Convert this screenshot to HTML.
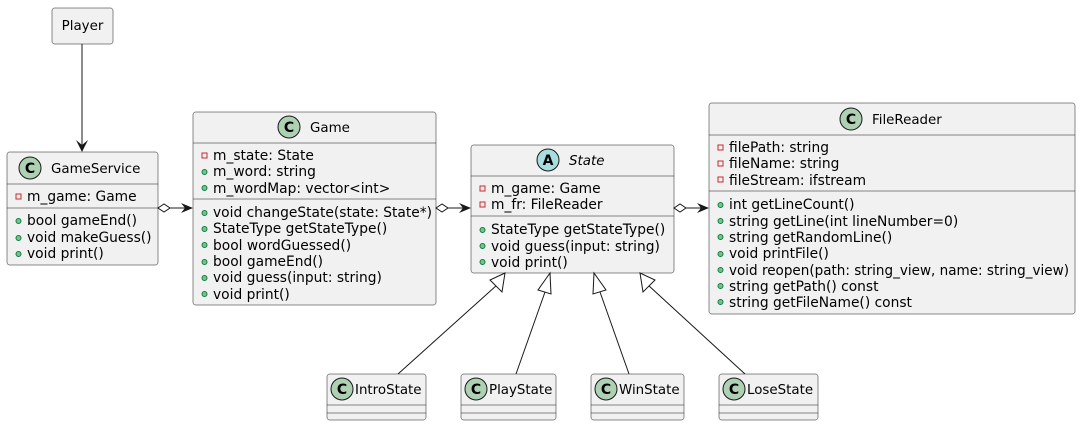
<!DOCTYPE html>
<html><head><meta charset="utf-8"><style>
html,body{margin:0;padding:0;background:#fff;}
svg{display:block;font-family:"DejaVu Sans","Liberation Sans",sans-serif;}
text{font-size:13.8px;fill:#000;}
.t{font-size:13.4px;}
.b{fill:#F1F1F1;stroke:#181818;stroke-width:0.5;}
.l{stroke:#181818;stroke-width:0.5;}
.pr{fill:none;stroke:#C82930;stroke-width:1;}
.pu{fill:#84BE84;stroke:#038048;stroke-width:1;}
.e{stroke:#181818;stroke-width:1;fill:none;}
</style></head><body>
<svg width="1081" height="428" viewBox="0 0 1081 428">
<rect class="b" x="52" y="8" width="61" height="36" rx="2.5"/>
<text class="t" x="82.5" y="30" text-anchor="middle">Player</text>
<line class="e" x1="82" y1="44" x2="82" y2="150"/>
<polygon points="76,140 82,152 88,140 82,145" fill="#181818"/>

<rect class="b" x="7" y="152" width="151" height="113" rx="2.5"/>
<circle cx="30" cy="168" r="11" fill="#ADD1B2" stroke="#181818" stroke-width="1"/>
<text x="30" y="173" text-anchor="middle" style="font-weight:bold;font-size:14px">C</text>
<text class="t" x="51" y="173">GameService</text>
<line class="l" x1="7" y1="184" x2="158" y2="184"/>
<rect class="pr" x="16" y="194" width="5" height="5"/><text x="27" y="201">m_game: Game</text>
<line class="l" x1="7" y1="208" x2="158" y2="208"/>
<circle class="pu" cx="18.5" cy="221" r="2.5"/><text x="27" y="225">bool gameEnd()</text>
<circle class="pu" cx="18.5" cy="238" r="2.5"/><text x="27" y="242">void makeGuess()</text>
<circle class="pu" cx="18.5" cy="254" r="2.5"/><text x="27" y="258">void print()</text>

<rect class="b" x="193" y="112" width="243" height="193" rx="2.5"/>
<circle cx="289" cy="127" r="11" fill="#ADD1B2" stroke="#181818" stroke-width="1"/>
<text x="289" y="132" text-anchor="middle" style="font-weight:bold;font-size:14px">C</text>
<text class="t" x="310" y="132">Game</text>
<line class="l" x1="193" y1="143" x2="436" y2="143"/>
<rect class="pr" x="202" y="153" width="5" height="5"/><text x="213" y="160">m_state: State</text>
<circle class="pu" cx="204.5" cy="172" r="2.5"/><text x="213" y="176">m_word: string</text>
<circle class="pu" cx="204.5" cy="188" r="2.5"/><text x="213" y="193">m_wordMap: vector&lt;int&gt;</text>
<line class="l" x1="193" y1="199" x2="436" y2="199"/>
<circle class="pu" cx="204.5" cy="213" r="2.5"/><text x="213" y="217">void changeState(state: State*)</text>
<circle class="pu" cx="204.5" cy="229" r="2.5"/><text x="213" y="233">StateType getStateType()</text>
<circle class="pu" cx="204.5" cy="245" r="2.5"/><text x="213" y="250">bool wordGuessed()</text>
<circle class="pu" cx="204.5" cy="262" r="2.5"/><text x="213" y="266">bool gameEnd()</text>
<circle class="pu" cx="204.5" cy="278" r="2.5"/><text x="213" y="282">void guess(input: string)</text>
<circle class="pu" cx="204.5" cy="294" r="2.5"/><text x="213" y="299">void print()</text>

<rect class="b" x="471" y="145" width="203" height="128" rx="2.5"/>
<circle cx="548" cy="160" r="11" fill="#A9DCDF" stroke="#181818" stroke-width="1"/>
<text x="548" y="165" text-anchor="middle" style="font-weight:bold;font-size:14px">A</text>
<text class="t" x="569" y="165" style="font-style:italic">State</text>
<line class="l" x1="471" y1="176" x2="674" y2="176"/>
<rect class="pr" x="480" y="186" width="5" height="5"/><text x="491" y="193">m_game: Game</text>
<rect class="pr" x="480" y="202" width="5" height="5"/><text x="491" y="209">m_fr: FileReader</text>
<line class="l" x1="471" y1="216" x2="674" y2="216"/>
<circle class="pu" cx="482.5" cy="230" r="2.5"/><text x="491" y="234">StateType getStateType()</text>
<circle class="pu" cx="482.5" cy="246" r="2.5"/><text x="491" y="251">void guess(input: string)</text>
<circle class="pu" cx="482.5" cy="262" r="2.5"/><text x="491" y="267">void print()</text>

<rect class="b" x="709" y="103" width="366" height="211" rx="2.5"/>
<circle cx="851" cy="119" r="11" fill="#ADD1B2" stroke="#181818" stroke-width="1"/>
<text x="851" y="124" text-anchor="middle" style="font-weight:bold;font-size:14px">C</text>
<text class="t" x="872" y="124">FileReader</text>
<line class="l" x1="709" y1="135" x2="1075" y2="135"/>
<rect class="pr" x="718" y="145" width="5" height="5"/><text x="729" y="152">filePath: string</text>
<rect class="pr" x="718" y="161" width="5" height="5"/><text x="729" y="168">fileName: string</text>
<rect class="pr" x="718" y="177" width="5" height="5"/><text x="729" y="185">fileStream: ifstream</text>
<line class="l" x1="709" y1="191" x2="1075" y2="191"/>
<circle class="pu" cx="720.5" cy="205" r="2.5"/><text x="729" y="209">int getLineCount()</text>
<circle class="pu" cx="720.5" cy="221" r="2.5"/><text x="729" y="226">string getLine(int lineNumber=0)</text>
<circle class="pu" cx="720.5" cy="237" r="2.5"/><text x="729" y="242">string getRandomLine()</text>
<circle class="pu" cx="720.5" cy="254" r="2.5"/><text x="729" y="258">void printFile()</text>
<circle class="pu" cx="720.5" cy="270" r="2.5"/><text x="729" y="275" textLength="340" lengthAdjust="spacingAndGlyphs">void reopen(path: string_view, name: string_view)</text>
<circle class="pu" cx="720.5" cy="286" r="2.5"/><text x="729" y="291">string getPath() const</text>
<circle class="pu" cx="720.5" cy="302" r="2.5"/><text x="729" y="307">string getFileName() const</text>

<g>
<polygon points="158,208 164,204 170,208 164,212" fill="#fff" stroke="#181818"/>
<line class="e" x1="170" y1="208" x2="191" y2="208"/>
<polygon points="181,203 193,208 181,213 185,208" fill="#181818"/>
<polygon points="436,208 442,204 448,208 442,212" fill="#fff" stroke="#181818"/>
<line class="e" x1="448" y1="208" x2="469" y2="208"/>
<polygon points="459,203 471,208 459,213 463,208" fill="#181818"/>
<polygon points="674,208 680,204 686,208 680,212" fill="#fff" stroke="#181818"/>
<line class="e" x1="686" y1="208" x2="707" y2="208"/>
<polygon points="697,203 709,208 697,213 701,208" fill="#181818"/>
</g>

<line class="e" x1="497" y1="285" x2="398" y2="374"/>
<polygon points="505,273 490,280 502,292" fill="#fff" stroke="#181818"/>
<line class="e" x1="545" y1="292" x2="516" y2="374"/>
<polygon points="550,273 538,290 551,294" fill="#fff" stroke="#181818"/>
<line class="e" x1="600" y1="292" x2="629" y2="374"/>
<polygon points="594,273 593,294 606,290" fill="#fff" stroke="#181818"/>
<line class="e" x1="648" y1="285" x2="745" y2="374"/>
<polygon points="640,273 643,292 655,280" fill="#fff" stroke="#181818"/>

<g>
<rect class="b" x="327" y="374" width="99" height="46" rx="2.5"/>
<circle cx="342" cy="389" r="11" fill="#ADD1B2" stroke="#181818" stroke-width="1"/>
<text x="342" y="394" text-anchor="middle" style="font-weight:bold;font-size:14px">C</text>
<text class="t" x="355" y="394">IntroState</text>
<line class="l" x1="327" y1="405" x2="426" y2="405"/><line class="l" x1="327" y1="413" x2="426" y2="413"/>

<rect class="b" x="461" y="374" width="95" height="46" rx="2.5"/>
<circle cx="476" cy="389" r="11" fill="#ADD1B2" stroke="#181818" stroke-width="1"/>
<text x="476" y="394" text-anchor="middle" style="font-weight:bold;font-size:14px">C</text>
<text class="t" x="489" y="394">PlayState</text>
<line class="l" x1="461" y1="405" x2="556" y2="405"/><line class="l" x1="461" y1="413" x2="556" y2="413"/>

<rect class="b" x="591" y="374" width="93" height="46" rx="2.5"/>
<circle cx="606" cy="389" r="11" fill="#ADD1B2" stroke="#181818" stroke-width="1"/>
<text x="606" y="394" text-anchor="middle" style="font-weight:bold;font-size:14px">C</text>
<text class="t" x="619" y="394">WinState</text>
<line class="l" x1="591" y1="405" x2="684" y2="405"/><line class="l" x1="591" y1="413" x2="684" y2="413"/>

<rect class="b" x="719" y="374" width="99" height="46" rx="2.5"/>
<circle cx="734" cy="389" r="11" fill="#ADD1B2" stroke="#181818" stroke-width="1"/>
<text x="734" y="394" text-anchor="middle" style="font-weight:bold;font-size:14px">C</text>
<text class="t" x="747" y="394">LoseState</text>
<line class="l" x1="719" y1="405" x2="818" y2="405"/><line class="l" x1="719" y1="413" x2="818" y2="413"/>
</g>
</svg>
</body></html>
